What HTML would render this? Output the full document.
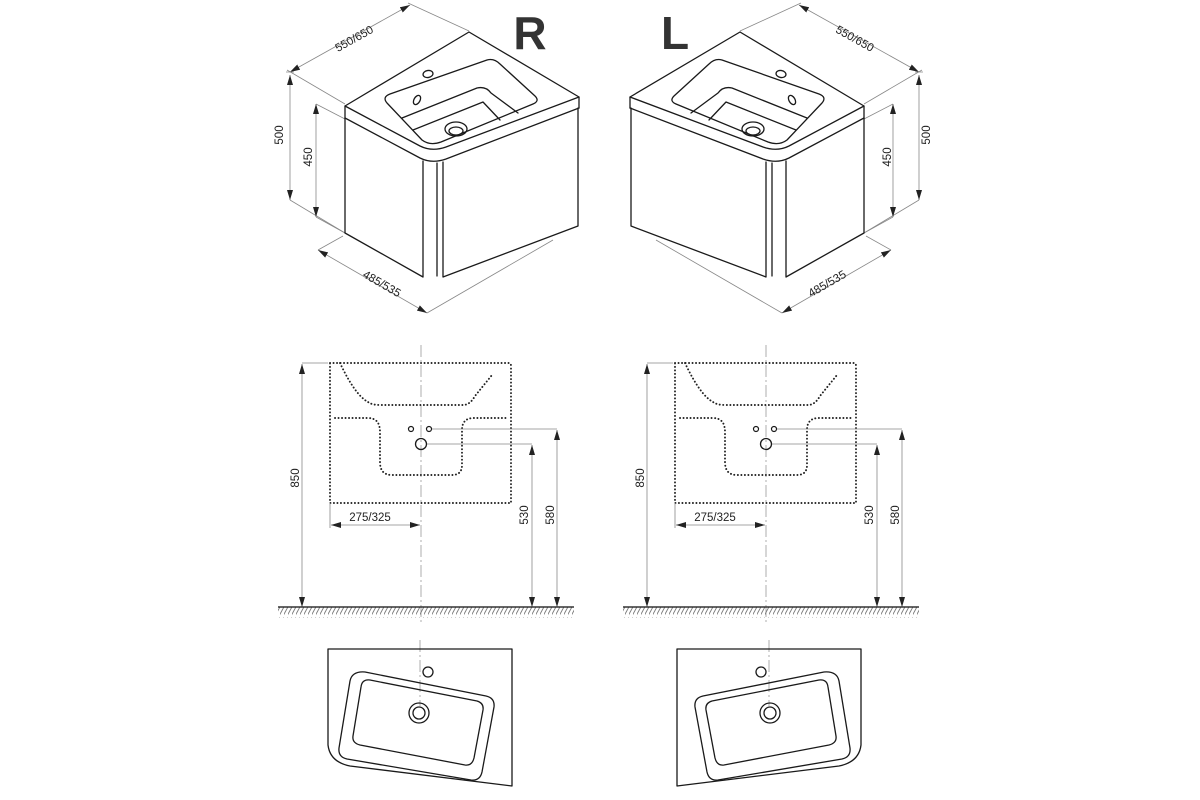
<!DOCTYPE html>
<html><head><meta charset="utf-8"><style>
html,body{margin:0;padding:0;background:#fff;}
svg{display:block;}
text{font-family:"Liberation Sans",sans-serif;font-size:11.5px;fill:#222;}
.k{fill:none;stroke:#1a1a1a;stroke-width:1.3;stroke-linecap:round;stroke-linejoin:round;}
.d{fill:none;stroke:#888;stroke-width:0.8;}
.dot{fill:none;stroke:#222;stroke-width:1.9;stroke-dasharray:0.1 3.4;stroke-linecap:round;}
.c{fill:none;stroke:#999;stroke-width:0.8;stroke-dasharray:12 3 2 3;}
</style></head><body>
<svg width="1200" height="800" viewBox="0 0 1200 800" xmlns="http://www.w3.org/2000/svg">
<defs>
<marker id="a" viewBox="0 0 10 6" refX="10" refY="3" markerWidth="10" markerHeight="6" orient="auto-start-reverse" markerUnits="userSpaceOnUse"><path d="M0,0 L10,3 L0,6 Z" fill="#222"/></marker>
<pattern id="h" width="4" height="11" patternUnits="userSpaceOnUse"><path d="M-1,11 L5,0" stroke="#777" stroke-width="0.9"/></pattern>
<g id="top">
 <path class="d" d="M290,72 L410,5" marker-start="url(#a)" marker-end="url(#a)"/>
 <path class="d" d="M287,70 L345,104 M408,3 L469,31"/>
 <path class="d" d="M290,75 V200" marker-start="url(#a)" marker-end="url(#a)"/>
 <path class="d" d="M286,72 H294 M290,200 L345,233"/>
 <path class="d" d="M316,104 V217" marker-start="url(#a)" marker-end="url(#a)"/>
 <path class="d" d="M316,104 L345,119 M316,217 L345,233"/>
 <path class="d" d="M318,250 L427,313" marker-start="url(#a)" marker-end="url(#a)"/>
 <path class="d" d="M318,250 L343,236 M427,313 L553,240"/>
 <path class="k" d="M345,106 L469,32 L579,97 V108 M345,106 V118"/>
 <path class="k" d="M345,106 L420,146 Q432,152 446,147 L579,97"/>
 <path class="k" d="M345,118 L420,158 Q432,164 446,159 L579,108"/>
 <path class="k" d="M345,118 V233 L423,277 V161"/>
 <path class="k" d="M437,163 V276 M443,162 V277 L578,226 V108"/>
 <path class="k" d="M387,103 Q382,97 390,94 L487,60 Q494,58 500,64 L535,96 Q540,101 533,104 L441,142 Q430,146 422,140 Z"/>
 <path class="k" d="M402,118 L477,88 Q486,86 491,93 L518,113"/>
 <path class="k" d="M413,130 L483,102 L500,120"/>
 <ellipse class="k" cx="456" cy="129" rx="11" ry="7"/>
 <ellipse class="k" cx="456" cy="131" rx="7" ry="4"/>
 <ellipse class="k" cx="428" cy="74" rx="5" ry="3.5" transform="rotate(-10 428 74)"/>
 <ellipse class="k" cx="417" cy="100" rx="3" ry="5" transform="rotate(30 417 100)"/>
</g>
<g id="mid">
 <path class="c" d="M421,345 V622"/>
 <path class="dot" d="M330,363 H509 Q511,363 511,366 V503 H330 V363"/>
 <path class="dot" d="M340,363 Q355,395 368,402 Q372,405 380,405 H463 Q470,405 475,396 L492,375"/>
 <path class="dot" d="M335,418 H368 Q380,418 380,432 V462 Q380,475 392,475 H452 Q462,475 462,465 V430 Q462,418 474,418 H507"/>
 <circle class="k" cx="411" cy="429" r="2.5" style="stroke-width:1.2"/>
 <circle class="k" cx="429" cy="429" r="2.5" style="stroke-width:1.2"/>
 <circle class="k" cx="421" cy="444" r="5.5"/>
 <path class="d" d="M432,429 H557 M427,444 H532 M302,363 H328 M330,503 V528"/>
 <path class="d" d="M302,364 V607" marker-start="url(#a)" marker-end="url(#a)"/>
 <path class="d" d="M557,430 V607" marker-start="url(#a)" marker-end="url(#a)"/>
 <path class="d" d="M532,445 V607" marker-start="url(#a)" marker-end="url(#a)"/>
 <path class="d" d="M331,525 H420" marker-start="url(#a)" marker-end="url(#a)"/>
 <rect x="278" y="607" width="296" height="11" fill="url(#h)"/>
 <path d="M278,607 H574" stroke="#333" stroke-width="1.6"/>
 <text x="370" y="521" text-anchor="middle">275/325</text>
 <text transform="translate(299,478) rotate(-90)" text-anchor="middle">850</text>
 <text transform="translate(528,515) rotate(-90)" text-anchor="middle">530</text>
 <text transform="translate(554,515) rotate(-90)" text-anchor="middle">580</text>
</g>
<g id="bot">
 <path class="c" d="M420,640 V706"/>
 <path class="k" d="M328,649 H512 V786 L350,766 Q330,762 328,745 Z"/>
 <path class="k" d="M365,672 L486,696 Q495,698 494,707 L482,772 Q480,781 471,780 L347,759 Q338,757 339,748 L350,681 Q352,671 365,672 Z"/>
 <path class="k" d="M370,680 L477,701 Q484,703 483,710 L474,758 Q472,766 465,765 L360,745 Q352,743 353,736 L361,687 Q362,679 370,680 Z"/>
 <circle class="k" cx="419" cy="713" r="10"/>
 <circle class="k" cx="419" cy="713" r="6"/>
 <circle class="k" cx="428" cy="672" r="5"/>
</g>
</defs>
<use href="#top"/>
<use href="#top" transform="translate(1209,0) scale(-1,1)"/>
<use href="#mid"/>
<use href="#mid" transform="translate(345,0)"/>
<use href="#bot"/>
<use href="#bot" transform="translate(1189,0) scale(-1,1)"/>
<text x="530" y="49" text-anchor="middle" style="font-size:46px;font-weight:bold;fill:#333">R</text>
<text x="675" y="49" text-anchor="middle" style="font-size:46px;font-weight:bold;fill:#333">L</text>
<text transform="translate(356,42) rotate(-29)" text-anchor="middle">550/650</text>
<text transform="translate(283,135) rotate(-90)" text-anchor="middle">500</text>
<text transform="translate(312,157) rotate(-90)" text-anchor="middle">450</text>
<text transform="translate(380,287) rotate(30)" text-anchor="middle">485/535</text>
<text transform="translate(853,42) rotate(29)" text-anchor="middle">550/650</text>
<text transform="translate(930,135) rotate(-90)" text-anchor="middle">500</text>
<text transform="translate(891,157) rotate(-90)" text-anchor="middle">450</text>
<text transform="translate(829,287) rotate(-30)" text-anchor="middle">485/535</text>
</svg>
</body></html>
